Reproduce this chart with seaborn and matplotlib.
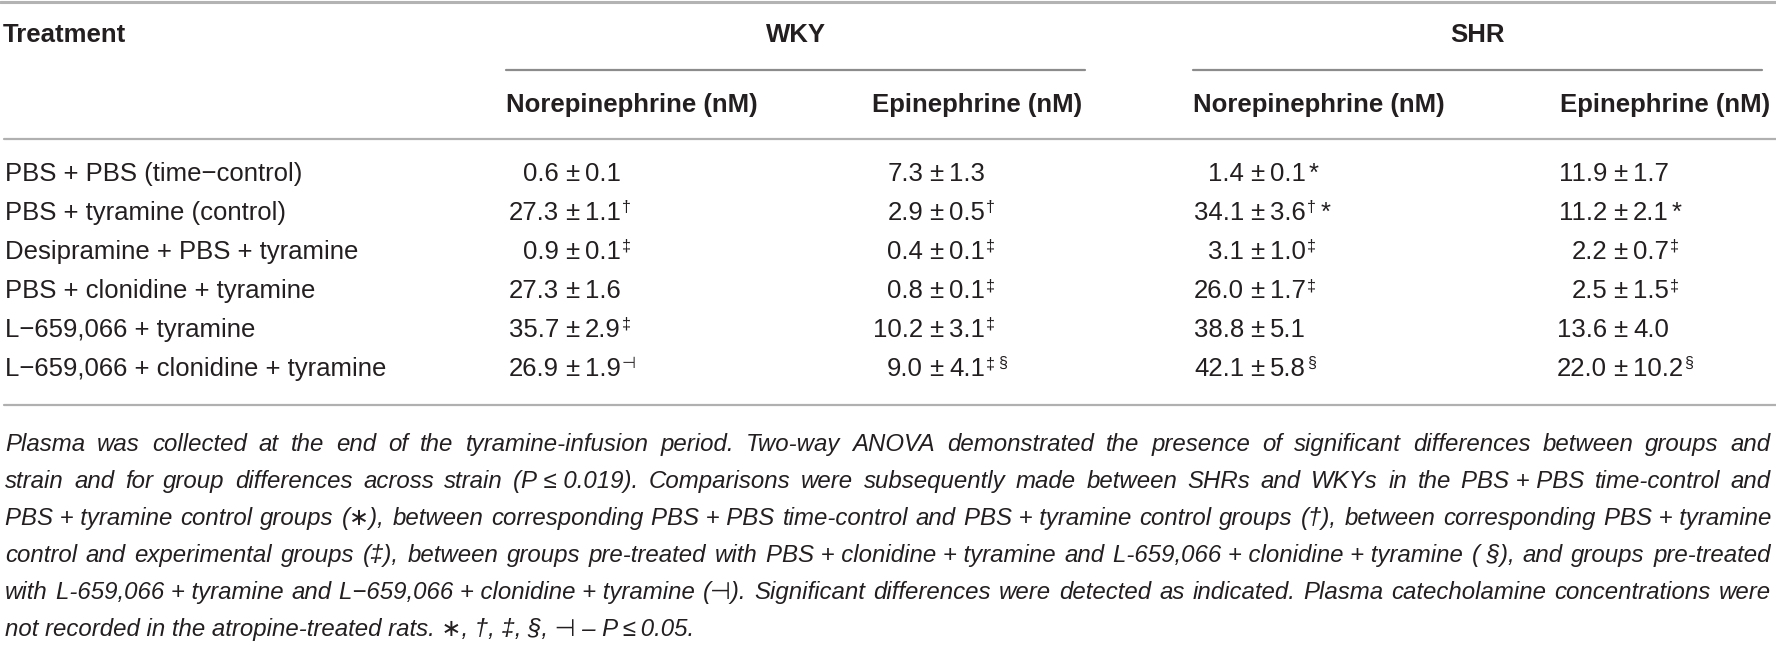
import matplotlib
matplotlib.use("Agg")
import matplotlib.pyplot as plt
import seaborn as sns

# table content
treatments = [
    "PBS + PBS (time\u2212control)",
    "PBS + tyramine (control)",
    "Desipramine + PBS + tyramine",
    "PBS + clonidine + tyramine",
    "L\u2212659,066 + tyramine",
    "L\u2212659,066 + clonidine + tyramine",
]
strains = ["WKY", "SHR"]
columns = ["Norepinephrine (nM)", "Epinephrine (nM)",
           "Norepinephrine (nM)", "Epinephrine (nM)"]

wky_ne_mean = [0.6, 27.3, 0.9, 27.3, 35.7, 26.9]
wky_ne_sem = [0.1, 1.1, 0.1, 1.6, 2.9, 1.9]
wky_ne_sig = ["", "\u2020", "\u2021", "", "\u2021", "\u22a3"]

wky_epi_mean = [7.3, 2.9, 0.4, 0.8, 10.2, 9.0]
wky_epi_sem = [1.3, 0.5, 0.1, 0.1, 3.1, 4.1]
wky_epi_sig = ["", "\u2020", "\u2021", "\u2021", "\u2021", "\u2021\u00a7"]

shr_ne_mean = [1.4, 34.1, 3.1, 26.0, 38.8, 42.1]
shr_ne_sem = [0.1, 3.6, 1.0, 1.7, 5.1, 5.8]
shr_ne_sig = ["*", "\u2020*", "\u2021", "\u2021", "", "\u00a7"]

shr_epi_mean = [11.9, 11.2, 2.2, 2.5, 13.6, 22.0]
shr_epi_sem = [1.7, 2.1, 0.7, 1.5, 4.0, 10.2]
shr_epi_sig = ["", "*", "\u2021", "\u2021", "", "\u00a7"]

nb = "\u00a0"
caption_lines = [
    "Plasma was collected at the end of the tyramine-infusion period. Two-way ANOVA "
    "demonstrated the presence of significant differences between groups and",
    f"strain and for group differences across strain (P{nb}\u2264{nb}0.019). Comparisons were "
    f"subsequently made between SHRs and WKYs in the PBS{nb}+{nb}PBS time-control and",
    f"PBS{nb}+{nb}tyramine control groups (\u2217), between corresponding PBS{nb}+{nb}PBS time-control "
    f"and PBS{nb}+{nb}tyramine control groups (\u2020), between corresponding PBS{nb}+{nb}tyramine",
    f"control and experimental groups (\u2021), between groups pre-treated with "
    f"PBS{nb}+{nb}clonidine{nb}+{nb}tyramine and L-659,066{nb}+{nb}clonidine{nb}+{nb}tyramine "
    f"({nb}\u00a7), and groups pre-treated",
    f"with L-659,066{nb}+{nb}tyramine and L\u2212659,066{nb}+{nb}clonidine{nb}+{nb}tyramine "
    f"(\u22a3). Significant differences were detected as indicated. Plasma catecholamine "
    f"concentrations were",
    "not recorded in the atropine-treated rats. \u2217, \u2020, \u2021, \u00a7, \u22a3 \u2013 "
    "P\u2009\u2264\u20090.05.",
]

sns.set_theme(style="white")
plt.rcParams["font.family"] = ["Liberation Sans", "DejaVu Sans"]

W, H = 1776, 649
ink = "#231f20"
fig = plt.figure(figsize=(W / 100, H / 100), dpi=100)
ax = fig.add_axes([0, 0, 1, 1])
ax.set_xlim(0, W)
ax.set_ylim(H, 0)
ax.axis("off")
r = fig.canvas.get_renderer()

# rules
ax.plot([0, W], [1.5, 1.5], color="#b3b3b3", lw=2.2)
ax.plot([4, W], [139, 139], color="#b0b0b0", lw=1.6)
ax.plot([4, W], [405, 405], color="#b0b0b0", lw=1.6)
spans = [(506, 1085), (1193, 1762)]
for (a, b) in spans:
    ax.plot([a, b], [70, 70], color="#8c8c8c", lw=1.6)

# headers
ax.text(3, 42, "Treatment", fontsize=18.5, fontweight="bold", color=ink, va="baseline")
for name, (a, b) in zip(strains, spans):
    ax.text((a + b) / 2, 42, name, fontsize=18.5, fontweight="bold", color=ink,
            ha="center", va="baseline")
head_x = [506, 872, 1193, 1560]
for x, c in zip(head_x, columns):
    ax.text(x, 112, c, fontsize=18.5, fontweight="bold", color=ink, va="baseline")

# body
fs = 18.5
row_y = [181 + 39 * i for i in range(len(treatments))]
for y, t in zip(row_y, treatments):
    ax.text(5, y, t, fontsize=fs, color=ink, va="baseline")

pm_x = [572, 936, 1257, 1620]
cols = [(wky_ne_mean, wky_ne_sem, wky_ne_sig),
        (wky_epi_mean, wky_epi_sem, wky_epi_sig),
        (shr_ne_mean, shr_ne_sem, shr_ne_sig),
        (shr_epi_mean, shr_epi_sem, shr_epi_sig)]
for px, (means, sems, sigs) in zip(pm_x, cols):
    for y, m, s, sig in zip(row_y, means, sems, sigs):
        ax.text(px - 13, y, f"{m:.1f}", fontsize=fs, color=ink, ha="right", va="baseline")
        ax.text(px, y, "\u00b1", fontsize=fs, color=ink, ha="center", va="baseline")
        t = ax.text(px + 13, y, f"{s:.1f}", fontsize=fs, color=ink, va="baseline")
        x_end = t.get_window_extent(r).x1
        for ch in sig:
            if ch == "*":
                m_t = ax.text(x_end + 3, y, "*", fontsize=fs, color=ink, va="baseline")
            else:
                m_t = ax.text(x_end + 1, y - 8, ch, fontsize=11.5, color=ink, va="baseline")
            x_end = m_t.get_window_extent(r).x1 + 2

# caption, justified
cfs = 17.3
cap_y = [451 + 37 * i for i in range(len(caption_lines))]
x0, x1 = 5, 1771
for i, (y, line) in enumerate(zip(cap_y, caption_lines)):
    if i == len(caption_lines) - 1:
        ax.text(x0, y, line, fontsize=cfs, style="italic", color=ink, va="baseline")
        continue
    words = line.split(" ")
    texts = [ax.text(x0, y, w, fontsize=cfs, style="italic", color=ink, va="baseline")
             for w in words]
    widths = [t.get_window_extent(r).width for t in texts]
    gap = (x1 - x0 - sum(widths)) / (len(words) - 1)
    x = x0
    for t, w in zip(texts, widths):
        t.set_x(x)
        x += w + gap

fig.savefig("out.png", dpi=100)
